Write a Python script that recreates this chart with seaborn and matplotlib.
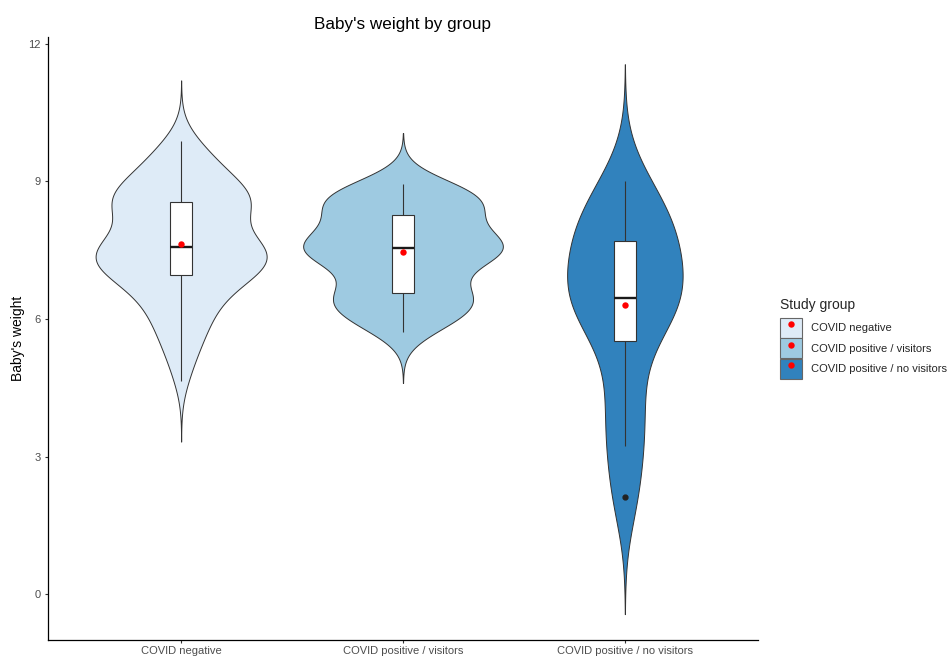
import numpy as np
import pandas as pd
import matplotlib
matplotlib.use("Agg")
import matplotlib.pyplot as plt
from matplotlib.patches import Patch
from matplotlib.lines import Line2D
import seaborn as sns

groups = ["COVID negative", "COVID positive / visitors", "COVID positive / no visitors"]
colors = ["#DEEBF7", "#9ECAE1", "#3182BD"]

weight_negative = [
    4.65, 5.0, 5.22, 5.4, 5.55, 5.68, 5.8, 5.91, 6.02, 6.12, 6.21, 6.3, 6.38, 6.46,
    6.54, 6.61, 6.68, 6.74, 6.8, 6.86, 6.91,
    6.97, 7.0, 7.04, 7.06, 7.1, 7.12, 7.15, 7.19, 7.21, 7.24, 7.28, 7.3, 7.33, 7.37,
    7.39, 7.42, 7.45, 7.49, 7.51, 7.54, 7.56,
    7.6, 7.62, 7.64, 7.67, 7.7, 7.74, 7.79, 7.86, 7.95, 8.05, 8.15, 8.24, 8.31, 8.36,
    8.4, 8.43, 8.46, 8.49, 8.51, 8.53, 8.54,
    8.58, 8.61, 8.65, 8.69, 8.73, 8.77, 8.81, 8.86, 8.91, 8.96, 9.02, 9.08, 9.15,
    9.22, 9.3, 9.38, 9.47, 9.57, 9.68, 9.78, 9.88,
]
weight_pos_visitors = [
    5.71, 5.79, 5.87, 5.95, 6.02, 6.09, 6.16, 6.22, 6.28, 6.33, 6.38, 6.42, 6.46,
    6.5, 6.53, 6.55,
    6.59, 6.72, 6.84, 6.94, 7.03, 7.11, 7.19, 7.26, 7.32, 7.37, 7.41, 7.44, 7.47,
    7.5, 7.52, 7.54,
    7.55, 7.57, 7.59, 7.61, 7.64, 7.67, 7.71, 7.76, 7.82, 7.89, 7.97, 8.05, 8.13,
    8.2, 8.25,
    8.29, 8.34, 8.39, 8.44, 8.49, 8.54, 8.59, 8.63, 8.67, 8.71, 8.75, 8.79, 8.83,
    8.87, 8.91, 8.95,
]
weight_pos_no_visitors = [2.12, 3.22, 4.0, 5.0, 6.06, 6.2, 6.35, 6.46, 6.85, 7.25,
                          7.6, 7.82, 8.15, 8.45, 9.0]

df = pd.DataFrame({
    "group": [groups[0]] * len(weight_negative)
             + [groups[1]] * len(weight_pos_visitors)
             + [groups[2]] * len(weight_pos_no_visitors),
    "weight": weight_negative + weight_pos_visitors + weight_pos_no_visitors,
})


def nrd0(kde):
    # R's default bandwidth (bw.nrd0), as a factor of the sd
    x = kde.dataset[0]
    sd = x.std(ddof=1)
    q75, q25 = np.percentile(x, [75, 25])
    lo = min(sd, (q75 - q25) / 1.34)
    return 0.9 * lo * len(x) ** -0.2 / sd


sns.set_style("ticks")
plt.rcParams["font.family"] = ["Liberation Sans", "DejaVu Sans"]

fig = plt.figure(figsize=(9.51, 6.59), dpi=100)
ax = fig.add_axes([48 / 951, 19 / 659, 710 / 951, 603 / 659])

sns.violinplot(data=df, x="group", y="weight", hue="group", order=groups,
               hue_order=groups, palette=colors, saturation=1, legend=False,
               cut=3, bw_method=nrd0, density_norm="area", common_norm=True,
               width=0.9, inner=None, gridsize=300, linewidth=0.7,
               linecolor="#333333", ax=ax)

sns.boxplot(data=df, x="group", y="weight", order=groups, width=0.1,
            color="white", saturation=1, linewidth=0.8, linecolor="#333333",
            showcaps=False,
            medianprops=dict(color="#1a1a1a", linewidth=1.7),
            flierprops=dict(marker="o", markerfacecolor="#222222",
                            markeredgecolor="#222222", markersize=3.5),
            ax=ax)

sns.pointplot(data=df, x="group", y="weight", order=groups, estimator="mean",
              errorbar=None, color="red", markers="o", linestyles="none",
              markersize=4.6, markeredgewidth=0, zorder=6, ax=ax)

ax.set_xlim(-0.6, 2.6)
ax.set_ylim(-1.0, 12.15)
ax.set_yticks([0, 3, 6, 9, 12])
ax.set_xlabel("")
ax.set_ylabel("Baby's weight", fontsize=10, color="black")
ax.yaxis.set_label_coords(-0.032, 0.5)
sns.despine(ax=ax)
for s in ["left", "bottom"]:
    ax.spines[s].set_linewidth(0.9)
    ax.spines[s].set_color("black")
ax.tick_params(axis="both", labelsize=8, labelcolor="#4D4D4D", color="#333333",
               length=2.4, width=0.8)
ax.tick_params(axis="x", pad=2.1)
ax.tick_params(axis="y", pad=2.6)

fig.text(403 / 951, 1 - 28.5 / 659, "Baby's weight by group", ha="center",
         va="baseline", fontsize=12.3, color="black")

handles = [(Patch(facecolor=c, edgecolor="#666666", linewidth=0.8),
            Line2D([], [], marker="o", color="red", linestyle="none",
                   markersize=4.6, markeredgewidth=0))
           for c in colors]
leg = ax.legend(handles, groups, title="Study group", loc="upper left",
                bbox_to_anchor=(780 / 951, 1 - 298 / 659),
                bbox_transform=fig.transFigure, frameon=False, fontsize=8,
                title_fontsize=10, alignment="left", borderpad=0,
                borderaxespad=0, handlelength=1.95, handleheight=2.39,
                labelspacing=0.05, handletextpad=0.8)
leg._legend_box.sep = 4

fig.savefig("out.png", dpi=100)
